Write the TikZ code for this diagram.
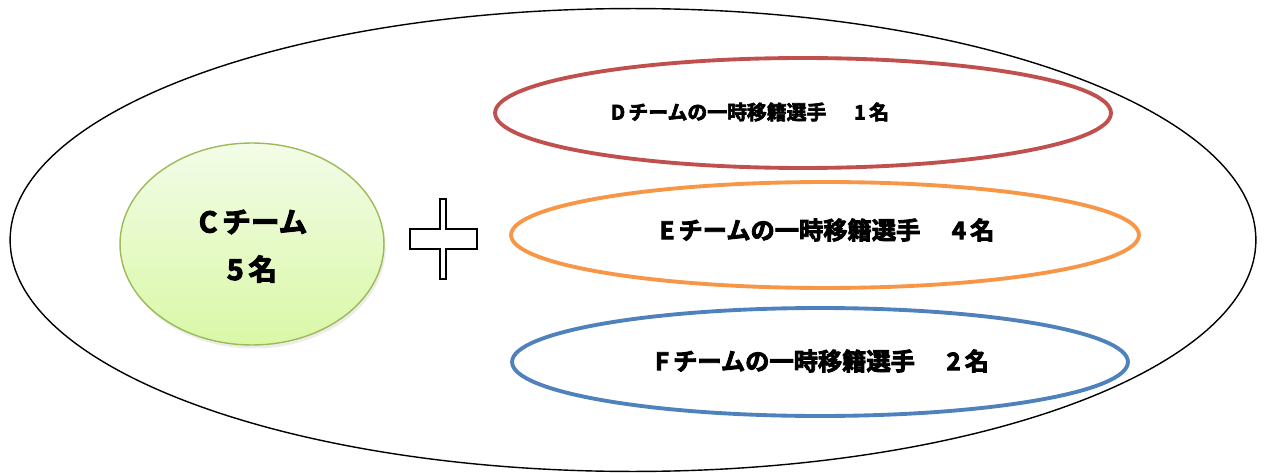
\documentclass[tikz,border=0pt]{standalone}
\usepackage{fontspec}
\newfontfamily\jp{Noto Sans CJK JP Bold}[FakeBold=3.5]
\usetikzlibrary{shapes.geometric,shadows}
\definecolor{cred}{HTML}{C0504D}
\definecolor{corange}{HTML}{F79646}
\definecolor{cblue}{HTML}{4F81BD}
\definecolor{cgreen}{HTML}{9BBB59}
\definecolor{gtop}{HTML}{F3FCE8}
\definecolor{gbot}{HTML}{D9F8A6}
\tikzset{
  oval/.style={ellipse, inner sep=0pt, line width=2.2pt},
  lbl/.style={font=\jp, inner sep=0pt, anchor=center},
}
\begin{document}
\begin{tikzpicture}[x=0.02cm,y=-0.02cm]
\useasboundingbox (0,0) rectangle (1265,473);
% outer
\node[ellipse, draw=black, line width=0.8pt, minimum width=24.92cm, minimum height=9.26cm, inner sep=0pt] (outer) at (633,240) {};
% green
\node[ellipse, draw=cgreen, line width=0.8pt, top color=gtop, bottom color=gbot,
  minimum width=5.28cm, minimum height=4.04cm, inner sep=0pt,
  drop shadow={shadow xshift=1pt, shadow yshift=-2pt, opacity=0.15, fill=gray}] (green) at (252,244) {};
\node[lbl, font=\jp\fontsize{16.3}{18}\selectfont] (ct) at (253,222) {C\,チーム};
\node[lbl, font=\jp\fontsize{16.3}{18}\selectfont] (cn) at (252,269) {5\,名};
% plus outline
\draw[line width=0.8pt, fill=white] (440,199) coordinate (p1) -- (446,199) -- (446,229) -- (477,229) -- (477,249) -- (446,249) -- (446,279) -- (440,279) -- (440,249) -- (410,249) -- (410,229) -- (440,229) -- cycle;
% colored ovals
\node[oval, draw=cred, minimum width=12.32cm, minimum height=2.2cm] (d) at (803,113) {};
\node[oval, draw=corange, minimum width=12.56cm, minimum height=2.12cm] (e) at (825,235) {};
\node[oval, draw=cblue, minimum width=12.32cm, minimum height=2.16cm] (f) at (820,362) {};
\node[lbl, font=\jp\fontsize{11.3}{13}\selectfont] (dt) at (750,112) {D\,チームの一時移籍選手\hspace{1.4em}1\,名};
\node[lbl, font=\jp\fontsize{13.8}{15}\selectfont] (et) at (827,230) {E\,チームの一時移籍選手\hspace{1.3em}4\,名};
\node[lbl, font=\jp\fontsize{13.8}{15}\selectfont] (ft) at (822,361) {F\,チームの一時移籍選手\hspace{1.3em}2\,名};
\end{tikzpicture}
\end{document}
